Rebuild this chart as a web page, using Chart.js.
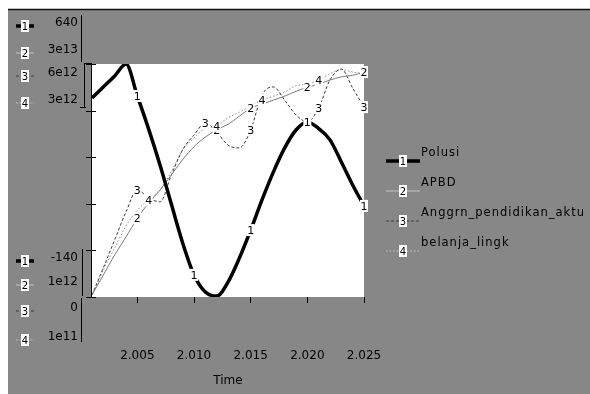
<!DOCTYPE html>
<html>
<head>
<meta charset="utf-8">
<script src="https://cdn.jsdelivr.net/npm/chart.js@4"></script>
<style>
  html, body { margin: 0; padding: 0; background: #fff; }
  #wrap { width: 590px; height: 394px; }
</style>
</head>
<body>
<div id="wrap"><canvas id="chart" width="590" height="394"></canvas></div>
<script>
// data
const years = [2001, 2002, 2003, 2004, 2005, 2006, 2007, 2008, 2009, 2010, 2011, 2012, 2013,
               2014, 2015, 2016, 2017, 2018, 2019, 2020, 2021, 2022, 2023, 2024, 2025];
const polusi = [526, 563, 600, 640, 533, 422, 302, 171, 41, -66, -123, -137, -90,
                -10, 84, 185, 278, 359, 419, 446, 424, 386, 312, 235, 165];
const apbd = [1.25e12, 3.74e12, 6.23e12, 8.47e12, 10.8e12, 12.7e12, 14.3e12, 16.2e12, 18.1e12,
              19.7e12, 20.9e12, 21.8e12, 22.5e12, 23.5e12, 24.5e12, 25.0e12, 25.5e12, 26.0e12,
              26.6e12, 27.1e12, 27.5e12, 28.0e12, 28.4e12, 28.6e12, 29.0e12];
const anggrn = [0.05e12, 0.75e12, 1.47e12, 2.19e12, 2.76e12, 2.55e12, 2.45e12, 3.14e12, 3.79e12,
                4.17e12, 4.48e12, 4.25e12, 3.91e12, 3.84e12, 4.30e12, 5.20e12, 5.41e12, 5.07e12,
                4.69e12, 4.51e12, 4.87e12, 5.59e12, 5.87e12, 5.38e12, 4.89e12];
const belanja = [0.125e12, 0.436e12, 0.71e12, 0.984e12, 1.18e12, 1.31e12, 1.43e12, 1.66e12, 1.93e12,
                 2.08e12, 2.20e12, 2.23e12, 2.33e12, 2.40e12, 2.48e12, 2.55e12, 2.60e12, 2.65e12,
                 2.73e12, 2.75e12, 2.80e12, 2.88e12, 2.93e12, 2.90e12, 2.88e12];

const seriesNames = ['Polusi', 'APBD', 'Anggrn_pendidikan_aktu', 'belanja_lingk'];
const axisMins = [-140, 1e12, 0, 1e11];
const axisMaxs = [640, 3e13, 6e12, 3e12];
const xTicks = [2005, 2010, 2015, 2020, 2025];
const xTitle = 'Time';

// where the little number markers sit on each line (index into years)
const markIdx = [[4, 9, 14, 19, 24], [4, 11, 14, 19, 24], [4, 10, 14, 20, 24], [5, 11, 15, 20]];

const FONT = 'DejaVu Sans';
const styles = [
  { color: '#000000', key: '#000000', width: 3.5, dash: [] },
  { color: '#7c7c7c', key: '#c4c4c4', width: 1, dash: [] },
  { color: '#3c3c3c', key: '#3c3c3c', width: 1, dash: [3, 2] },
  { color: '#8e8e8e', key: '#c4c4c4', width: 1, dash: [1.5, 2] }
];

const fmtAxis = v => Math.abs(v) >= 1e5 ? v.toExponential(0).replace('e+', 'e') : String(v);
const fmtYear = v => String(v).replace(/(\d)(\d{3})$/, '$1.$2');

const allSeries = [polusi, apbd, anggrn, belanja];

function drawKey(ctx, cx, cy, i, len) {
  const s = styles[i];
  ctx.save();
  ctx.strokeStyle = s.key;
  ctx.lineWidth = s.width;
  ctx.setLineDash(s.dash);
  ctx.beginPath();
  ctx.moveTo(cx - len, cy);
  ctx.lineTo(cx + len, cy);
  ctx.stroke();
  ctx.setLineDash([]);
  ctx.fillStyle = '#fff';
  ctx.fillRect(cx - 4, cy - 6, 8, 12);
  ctx.fillStyle = '#000';
  ctx.font = '10px ' + FONT;
  ctx.textAlign = 'center';
  ctx.textBaseline = 'middle';
  ctx.fillText(String(i + 1), cx, cy + 1);
  ctx.restore();
}

const vensimLook = {
  id: 'vensimLook',
  beforeDraw(chart) {
    const { ctx, chartArea: a } = chart;
    ctx.save();
    ctx.fillStyle = '#fff';
    ctx.fillRect(0, 0, chart.width, chart.height);
    ctx.fillStyle = '#878787';
    ctx.fillRect(8, 9, chart.width - 8, chart.height - 9);
    ctx.strokeStyle = '#111';
    ctx.lineWidth = 1.5;
    ctx.beginPath();
    ctx.moveTo(8, 9.5);
    ctx.lineTo(chart.width, 9.5);
    ctx.stroke();
    ctx.fillStyle = '#fff';
    ctx.fillRect(a.left, a.top, a.right - a.left, a.bottom - a.top);
    ctx.restore();
  },
  afterDatasetsDraw(chart) {
    const { ctx, chartArea: a } = chart;
    ctx.save();

    // number markers on the lines
    ctx.font = '11px ' + FONT;
    ctx.textAlign = 'center';
    ctx.textBaseline = 'middle';
    markIdx.forEach((list, d) => {
      const meta = chart.getDatasetMeta(d);
      list.forEach(k => {
        const p = meta.data[k];
        if (!p) return;
        ctx.fillStyle = '#fff';
        ctx.fillRect(p.x - 4, p.y - 6, 8, 12);
        ctx.fillStyle = '#000';
        ctx.fillText(String(d + 1), p.x, p.y + 1);
      });
    });

    // left axis line with ticks from the Polusi scale
    const y1 = chart.scales.y1;
    ctx.strokeStyle = '#000';
    ctx.lineWidth = 1;
    ctx.beginPath();
    ctx.moveTo(a.left - 0.5, a.top);
    ctx.lineTo(a.left - 0.5, a.bottom);
    const step = (axisMaxs[0] - axisMins[0]) / 5;
    for (let k = 0; k <= 5; k++) {
      const y = Math.round(y1.getPixelForValue(axisMins[0] + k * step)) + 0.5;
      ctx.moveTo(a.left - 6, y);
      ctx.lineTo(a.left + 4, y);
    }
    ctx.stroke();

    // brackets for the two label groups
    ctx.beginPath();
    ctx.moveTo(81.5, 15); ctx.lineTo(81.5, 62);
    ctx.moveTo(84.5, 63); ctx.lineTo(84.5, 107);
    ctx.moveTo(84.5, 63.5); ctx.lineTo(a.left, 63.5);
    ctx.moveTo(80, 107.5); ctx.lineTo(86, 107.5);
    ctx.moveTo(82.5, 249); ctx.lineTo(82.5, 296);
    ctx.moveTo(81.5, 298); ctx.lineTo(81.5, 342);
    ctx.stroke();

    // axis range labels: max values on top, min values at bottom
    ctx.font = '12px ' + FONT;
    ctx.textAlign = 'right';
    const topY = [23, 50, 73, 100];
    const botY = [258, 282, 308, 337];
    for (let i = 0; i < 4; i++) {
      ctx.fillStyle = '#000';
      ctx.fillText(fmtAxis(axisMaxs[i]), 78, topY[i]);
      ctx.fillText(fmtAxis(axisMins[i]), 78, botY[i]);
      drawKey(ctx, 25, topY[i] + 3, i, 9);
      drawKey(ctx, 25, botY[i] + 3, i, 9);
    }

    // legend on the right
    const legY = [153, 183, 213, 243];
    for (let i = 0; i < 4; i++) {
      drawKey(ctx, 403, legY[i] + 8, i, 17);
      ctx.fillStyle = '#000';
      ctx.font = '11.5px ' + FONT;
      ctx.letterSpacing = '1px';
      ctx.textAlign = 'left';
      ctx.textBaseline = 'middle';
      ctx.fillText(seriesNames[i], 421, legY[i]);
      ctx.letterSpacing = '0px';
    }
    ctx.restore();
  }
};

const datasets = allSeries.map((vals, i) => ({
  label: seriesNames[i],
  data: vals.map((v, k) => ({ x: years[k], y: v })),
  yAxisID: 'y' + (i + 1),
  borderColor: styles[i].color,
  borderWidth: styles[i].width,
  borderDash: styles[i].dash,
  pointRadius: 0,
  fill: false,
  cubicInterpolationMode: 'monotone'
}));

const yScales = {};
axisMins.forEach((mn, i) => {
  yScales['y' + (i + 1)] = { type: 'linear', display: false, min: mn, max: axisMaxs[i] };
});

new Chart(document.getElementById('chart'), {
  type: 'line',
  data: { datasets },
  options: {
    responsive: false,
    animation: false,
    devicePixelRatio: 1,
    layout: { padding: { left: 92, top: 64, right: 226, bottom: 0 } },
    plugins: { legend: { display: false }, tooltip: { enabled: false } },
    scales: {
      x: {
        type: 'linear',
        min: years[0],
        max: years[years.length - 1],
        afterBuildTicks: s => { s.ticks = xTicks.map(v => ({ value: v })); },
        afterFit: s => { s.height = 97; },
        border: { display: false },
        grid: { drawOnChartArea: false, drawTicks: true, tickLength: 6, color: '#000', tickColor: '#000' },
        ticks: {
          color: '#000',
          padding: 46,
          maxRotation: 0,
          font: { family: FONT, size: 12 },
          callback: v => fmtYear(v)
        },
        title: {
          display: true,
          text: xTitle,
          color: '#000',
          font: { family: FONT, size: 12 },
          padding: { top: 0, bottom: 6 }
        }
      },
      ...yScales
    }
  },
  plugins: [vensimLook]
});
</script>
</body>
</html>
